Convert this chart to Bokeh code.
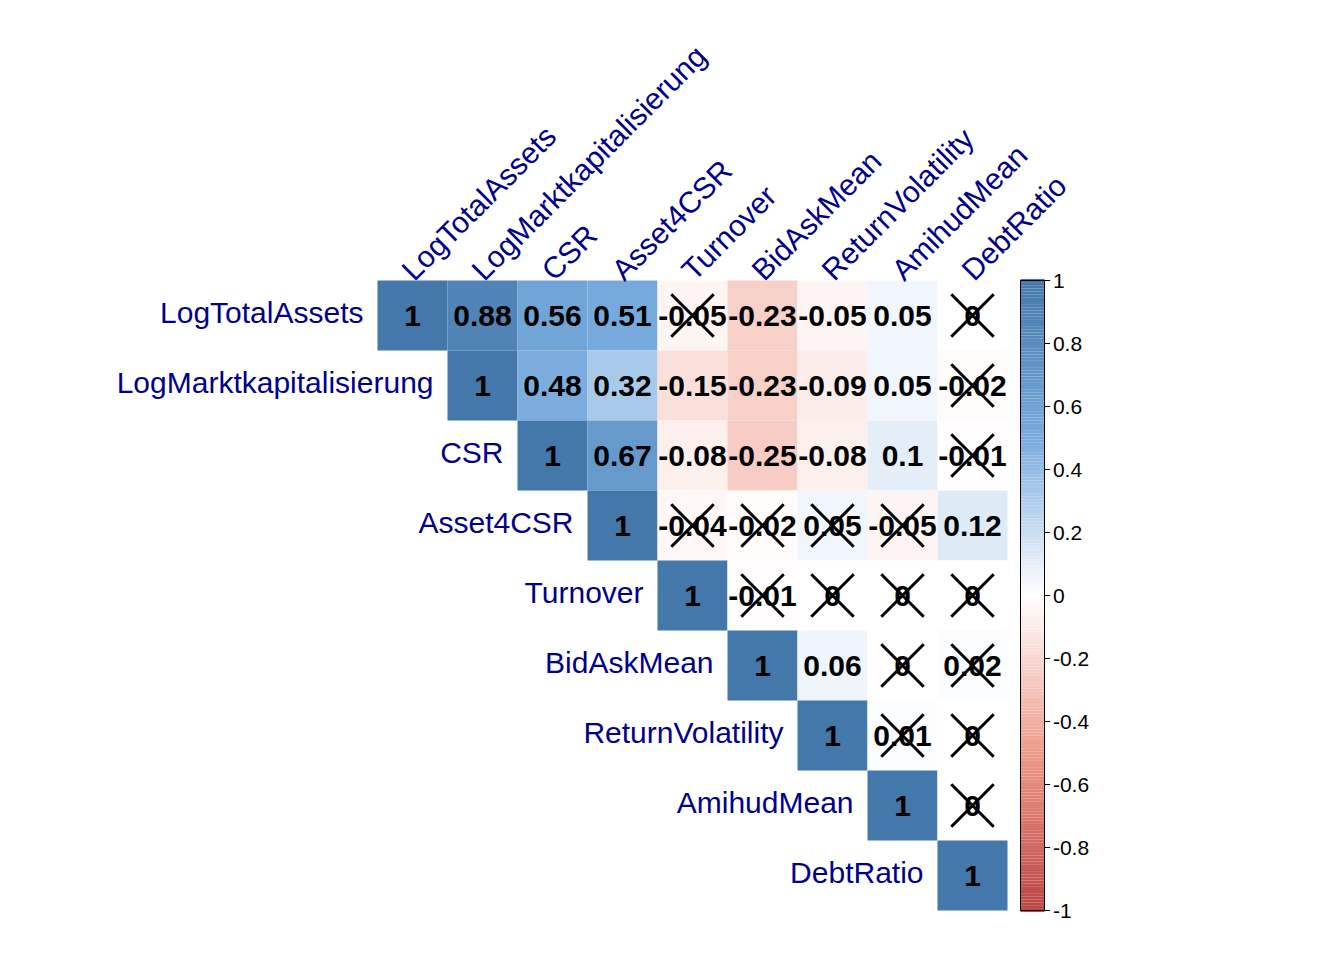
import numpy as np
from bokeh.plotting import figure
from bokeh.models import Range1d, ColumnDataSource
from bokeh.core.properties import value
from bokeh.embed import file_html
from bokeh.resources import INLINE

names = ["LogTotalAssets", "LogMarktkapitalisierung", "CSR", "Asset4CSR", "Turnover",
         "BidAskMean", "ReturnVolatility", "AmihudMean", "DebtRatio"]
corr_rows = [
    [1, 0.88, 0.56, 0.51, -0.05, -0.23, -0.05, 0.05, 0],
    [1, 0.48, 0.32, -0.15, -0.23, -0.09, 0.05, -0.02],
    [1, 0.67, -0.08, -0.25, -0.08, 0.1, -0.01],
    [1, -0.04, -0.02, 0.05, -0.05, 0.12],
    [1, -0.01, 0, 0, 0],
    [1, 0.06, 0, 0.02],
    [1, 0.01, 0],
    [1, 0],
    [1],
]
insignificant = [(0, 4), (0, 8), (1, 8), (2, 8), (3, 4), (3, 5), (3, 6), (3, 7),
                 (4, 5), (4, 6), (4, 7), (4, 8), (5, 7), (5, 8), (6, 7), (6, 8), (7, 8)]
cbar_ticks = [1, 0.8, 0.6, 0.4, 0.2, 0, -0.2, -0.4, -0.6, -0.8, -1]
anchors = ["#BB4444", "#EE9988", "#FFFFFF", "#77AADD", "#4477AA"]

def hex2rgb(h):
    return np.array([int(h[i:i + 2], 16) for i in (1, 3, 5)], float)

def colour(v):
    pos = (v + 1) / 2 * (len(anchors) - 1)
    k = min(int(pos), len(anchors) - 2)
    t = pos - k
    c = hex2rgb(anchors[k]) * (1 - t) + hex2rgb(anchors[k + 1]) * t
    return "#%02x%02x%02x" % tuple(int(round(x)) for x in c)

def fmt(v):
    if v == 1:
        return "1"
    if v == 0:
        return "0"
    return ("%.2f" % v).rstrip("0")

n = len(names)
W, H = 1328, 944
left_px, top_px, cell = 377, 280, 70
p = figure(width=W, height=H, output_backend="svg", toolbar_location=None,
           x_range=Range1d(-left_px / cell, (W - left_px) / cell),
           y_range=Range1d(n - (H - top_px) / cell, n + top_px / cell),
           min_border=0)
p.axis.visible = False
p.grid.visible = False
p.outline_line_color = None

xs, ys, cols, txt = [], [], [], []
for i, row in enumerate(corr_rows):
    for k, v in enumerate(row):
        j = i + k
        xs.append(j + 0.5); ys.append(n - i - 0.5); cols.append(colour(v)); txt.append(fmt(v))
src = ColumnDataSource(dict(x=xs, y=ys, c=cols, t=txt))
p.rect("x", "y", width=1, height=1, fill_color="c", line_color=None, source=src)
p.text("x", "y", text="t", source=src, text_align="center", text_baseline="middle",
       text_font=value("Liberation Sans"), text_font_style="bold", text_font_size="30px",
       text_color="black")
p.scatter([j + 0.5 for i, j in insignificant], [n - i - 0.5 for i, j in insignificant],
          marker="x", size=60, line_width=3, line_color="black")

p.text([i - 0.2 for i in range(n)], [n - i - 0.45 for i in range(n)], text=names,
       text_align="right", text_baseline="middle", text_font=value("Liberation Sans"),
       text_font_size="30px", text_color="#00008B")
p.text([j + 0.42 for j in range(n)], [n + 0.08] * n, text=names, angle=np.pi / 4,
       text_align="left", text_baseline="middle", text_font=value("Liberation Sans"),
       text_font_size="30px", text_color="#00008B")

cx0, cx1 = (1020 - left_px) / cell, (1044 - left_px) / cell
vals = np.linspace(-1, 1, 201)
step = n / 200
p.quad(left=cx0, right=cx1, bottom=[(v + 1) / 2 * n - step / 2 for v in vals],
       top=[(v + 1) / 2 * n + step / 2 for v in vals], fill_color=[colour(v) for v in vals],
       line_color=None)
p.quad(left=cx0, right=cx1, bottom=0, top=n, fill_color=None, line_color="black", line_width=1)
ty = [(t + 1) / 2 * n for t in cbar_ticks]
p.segment(x0=cx1, x1=cx1 + 0.08, y0=ty, y1=ty, line_color="black")
p.text([cx1 + 0.12] * len(ty), ty, text=[("%g" % t) for t in cbar_ticks], text_align="left",
       text_baseline="middle", text_font=value("Liberation Sans"), text_font_size="21px",
       text_color="black")

open("out.html", "w").write(file_html(p, INLINE))
